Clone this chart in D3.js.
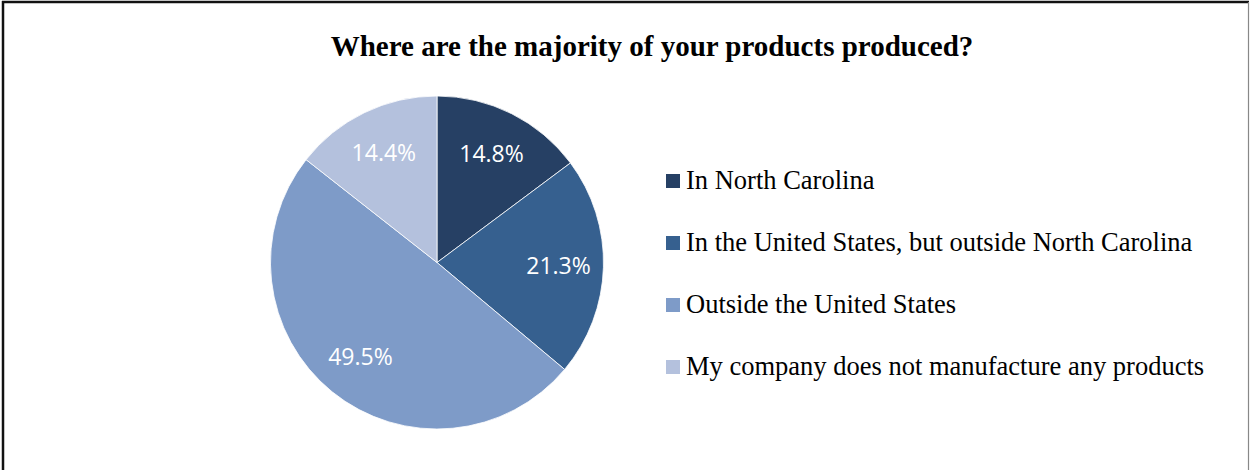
<!DOCTYPE html>
<html><head><meta charset="utf-8">
<script src="https://cdn.jsdelivr.net/npm/d3@7"></script>
<style>body{margin:0;background:#fff}svg{display:block}</style>
</head><body>
<script>
const categories = ["In North Carolina","In the United States, but outside North Carolina","Outside the United States","My company does not manufacture any products"];
const values = [14.8, 21.3, 49.5, 14.4];
const labels = ["14.8%","21.3%","49.5%","14.4%"];
const colors = ["#264064","#36608F","#7E9BC8","#B4C1DD"];
const title = "Where are the majority of your products produced?";

const W=1250,H=470;
const svg=d3.select("body").append("svg").attr("width",W).attr("height",H);
// frame
svg.append("line").attr("x1",3).attr("x2",3).attr("y1",1).attr("y2",H).attr("stroke","#111").attr("stroke-width",2.5);
svg.append("line").attr("x1",2).attr("x2",1249).attr("y1",2).attr("y2",2).attr("stroke","#111").attr("stroke-width",2.5);
svg.append("line").attr("x1",1248.5).attr("x2",1248.5).attr("y1",2).attr("y2",H).attr("stroke","#888").attr("stroke-width",1.2);

svg.append("text").attr("x",652).attr("y",56).attr("text-anchor","middle")
 .attr("font-family","'Liberation Serif','Times New Roman',serif").attr("font-weight","bold").attr("font-size",29).attr("fill","#000").text(title);

const cx=437, cy=262.5, r=166.5;
const pie=d3.pie().sort(null).value(d=>d);
const arcs=pie(values);
const arc=d3.arc().innerRadius(0).outerRadius(r);
const g=svg.append("g").attr("transform",`translate(${cx},${cy})`);
g.selectAll("path").data(arcs).join("path").attr("d",arc).attr("fill",(d,i)=>colors[i]).attr("stroke","#fff").attr("stroke-width",0.8);
const larc=d3.arc().innerRadius(r*0.73).outerRadius(r*0.73);
g.selectAll("text").data(arcs).join("text")
 .attr("transform",d=>`translate(${larc.centroid(d)})`)
 .attr("text-anchor","middle").attr("dy","0.36em")
 .attr("font-family","'Open Sans','Noto Sans',sans-serif").attr("font-size",23).attr("fill","#fff")
 .text((d,i)=>labels[i]);

const leg=svg.append("g");
const rowY=d3.scalePoint().domain(categories).range([180,366]);
categories.forEach((c,i)=>{
  const y=rowY(c);
  leg.append("rect").attr("x",666).attr("y",y-6).attr("width",14).attr("height",14).attr("fill",colors[i]);
  leg.append("text").attr("x",686).attr("y",y+9).attr("font-family","'Liberation Serif','Times New Roman',serif").attr("font-size",26.5).attr("fill","#000").text(c);
});
</script>
</body></html>
